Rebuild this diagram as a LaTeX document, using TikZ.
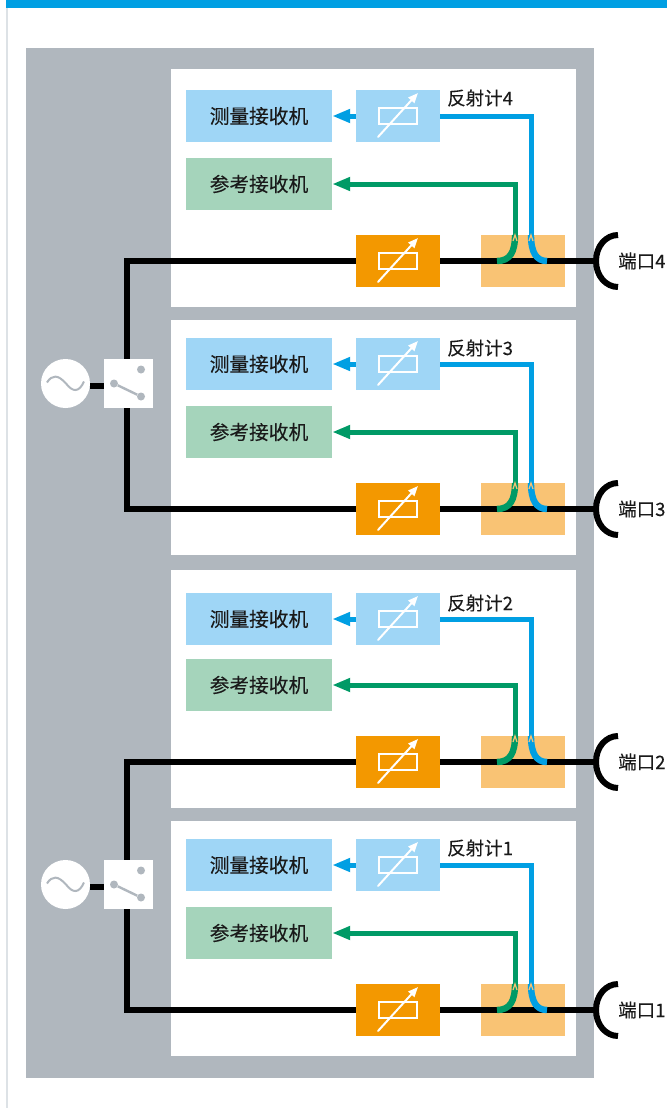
\documentclass[tikz,border=0pt]{standalone}
\usepackage{fontspec}
\setmainfont{Noto Sans CJK SC}
\newfontfamily\boldish[FakeBold=0.25]{Noto Sans CJK SC}
\newfontfamily\semibold[FakeBold=0.12]{Noto Sans CJK SC}
\usetikzlibrary{arrows.meta}
\definecolor{panelgrey}{HTML}{B0B7BE}
\definecolor{barblue}{HTML}{009FE3}
\definecolor{lightblue}{HTML}{9FD6F6}
\definecolor{lightgreen}{HTML}{A5D4BB}
\definecolor{lineblue}{HTML}{009FE3}
\definecolor{linegreen}{HTML}{009A66}
\definecolor{attorange}{HTML}{F39800}
\definecolor{peach}{HTML}{F9C374}
\definecolor{edgegrey}{HTML}{DDE2E6}
\definecolor{inkc}{HTML}{1A1A1A}
\tikzset{
 boxb/.style={rectangle,inner sep=0pt,minimum height=52pt,text=inkc,font=\boldish\fontsize{19.7}{22}\selectfont},
 recv/.style={boxb,minimum width=146pt},
 att/.style={boxb,minimum width=84pt},
 lbl/.style={inner sep=0pt,text=inkc,font=\semibold\fontsize{18.5}{22}\selectfont},
 mainline/.style={line width=6pt,black},
 sigblue/.style={line width=5pt,lineblue},
 siggreen/.style={line width=5pt,linegreen},
 sigarrow/.style={-{Triangle[length=18pt,width=13pt]}},
 icon/.style={line width=2pt,white},
 notch/.style={peach,line width=1.2pt},
}
\newcommand{\attsym}[1]{%
 \draw[icon] ([xshift=-19pt,yshift=-8pt]#1.center) rectangle ([xshift=19pt,yshift=8pt]#1.center);
 \draw[icon,line cap=round,-{Triangle[length=10pt,width=8pt]}] ([xshift=-20pt,yshift=-21pt]#1.center) -- ([xshift=20pt,yshift=23pt]#1.center);
}
% id, panel top, panel bottom, meas y, ref y, main y, label y
\newcommand{\rowunit}[7]{%
 \node[rectangle,fill=white,inner sep=0pt,minimum width=405pt,minimum height={#3-#2},anchor=north west] (panel#1) at (171,#2) {};
 \coordinate (split#1) at (127,#6);
 \coordinate (port#1) at (596,#6);
 \node[att,fill=attorange] (var#1) at (398,#6) {};
 \node[att,fill=peach] (coup#1) at (523,#6) {};
 \draw[mainline] (var#1) -- (port#1);
 \attsym{var#1}
 \node[recv,fill=lightblue] (meas#1) at (259,#4) {\raisebox{-1pt}{测量接收机}};
 \node[att,fill=lightblue] (refl#1) at (398,#4) {};
 \attsym{refl#1}
 \node[recv,fill=lightgreen] (ref#1) at (259,#5) {\raisebox{-1pt}{参考接收机}};
 \node[lbl,anchor=west] (rlabel#1) at (447,#7) {反射计#1};
 \node[lbl,anchor=west] (plabel#1) at (618,#6) {端口#1};
 \coordinate (bt#1) at (531,#4);
 \coordinate (bm#1) at (531,#6-26);
 \coordinate (be#1) at (547,#6);
 \coordinate (gt#1) at (515,#5);
 \coordinate (gm#1) at (515,#6-26);
 \coordinate (ge#1) at (497,#6);
 \draw[sigblue,sigarrow] (refl#1) -- (meas#1);
 \draw[sigblue,line join=miter] (refl#1.east) -- (bt#1) -- (bm#1);
 \draw[lineblue,line width=6.4pt] (bm#1) .. controls (531,#6-9) and (536,#6) .. (be#1);
 \draw[siggreen,sigarrow,line join=miter] (gm#1) -- (gt#1) -- (ref#1.east);
 \draw[linegreen,line width=6.4pt] (ge#1) .. controls (510,#6) and (515,#6-9) .. (gm#1);
 \draw[notch] (513,#6-20) -- (515,#6-26) -- (517,#6-20);
 \draw[notch] (529,#6-20) -- (531,#6-26) -- (533,#6-20);
 \draw[line width=6pt,black] (618,#6-26) .. controls (606,#6-26) and (596,#6-15) .. (596,#6) .. controls (596,#6+15) and (606,#6+26) .. (618,#6+26);
}
% id, centre y of source, top row id, bottom row id, top main y, bottom main y
\newcommand{\srcunit}[6]{%
 \coordinate (top#1) at (127,#5);
 \coordinate (bot#1) at (127,#6);
 \draw[mainline,line join=miter] (var#3) -- (top#1) -- (bot#1) -- (var#4);
 \node[circle,fill=white,inner sep=0pt,minimum size=49pt] (src#1) at (65.5,#2) {};
 \node[rectangle,fill=white,inner sep=0pt,minimum size=49pt] (sw#1) at (128.5,#2) {};
 \draw[mainline] ([yshift=-2pt]src#1.east) -- ([yshift=-2pt]sw#1.west);
 \draw[panelgrey,line width=2pt] (47,#2-1) .. controls (52,#2-9) and (58,#2-9) .. (66,#2) .. controls (73,#2+9) and (79,#2+9) .. (84,#2-2);
 \node[circle,fill=panelgrey,inner sep=0pt,minimum size=8pt] (ca#1) at (114,#2) {};
 \node[circle,fill=panelgrey,inner sep=0pt,minimum size=8pt] (cb#1) at (141,#2+13) {};
 \node[circle,fill=panelgrey,inner sep=0pt,minimum size=8pt] (cc#1) at (141,#2-14) {};
 \draw[panelgrey,line width=2.4pt] (ca#1) -- (cb#1);
}
\begin{document}
\begin{tikzpicture}[x=1pt,y=-1pt]
\useasboundingbox (0,0) rectangle (667,1108);
\fill[white] (0,0) rectangle (667,1108);
\fill[edgegrey] (6,0) rectangle (7.5,1108);
\fill[barblue] (6,0) rectangle (667,8);
\fill[panelgrey] (26,48) rectangle (594,1078);
\rowunit{4}{69}{307}{116}{184}{261}{98}
\rowunit{3}{320}{555}{364}{432}{509}{348}
\rowunit{2}{570}{808}{619}{685}{762}{603}
\rowunit{1}{821}{1056}{865}{933}{1010}{848}
\srcunit{a}{383.5}{4}{3}{261}{509}
\srcunit{b}{884.5}{2}{1}{762}{1010}
\end{tikzpicture}
\end{document}
